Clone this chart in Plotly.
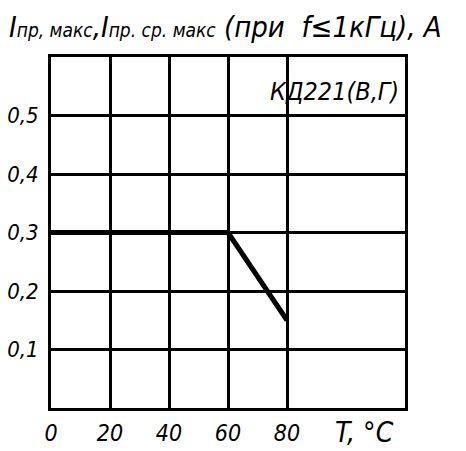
import plotly.graph_objects as go

# derating curve of KD221 (V, G)
temps = [0, 60, 80]
current = [0.3, 0.3, 0.15]

x_ticks = [0, 20, 40, 60, 80]
x_labels = ["0", "20", "40", "60", "80"]
y_ticks = [0.1, 0.2, 0.3, 0.4, 0.5]
y_labels = ["0,1", "0,2", "0,3", "0,4", "0,5"]

fnt = "DejaVu Sans Condensed, DejaVu Sans, sans-serif"

fig = go.Figure()
fig.add_scatter(x=temps, y=current, mode="lines",
                line=dict(color="black", width=5), showlegend=False)

fig.update_xaxes(
    range=[0, 120], tickvals=x_ticks, ticktext=x_labels,
    showgrid=True, gridcolor="black", gridwidth=3,
    showline=True, linecolor="black", linewidth=3, mirror=True,
    zeroline=False, ticks="", ticklabelstandoff=2, automargin=False,
    tickfont=dict(family=fnt, size=23, color="black", style="italic"),
)
fig.update_yaxes(
    range=[0, 0.6], tickvals=y_ticks + [0.6], ticktext=y_labels + [""],
    showgrid=True, gridcolor="black", gridwidth=3,
    showline=True, linecolor="black", linewidth=3, mirror=True,
    zeroline=False, ticks="", ticklabelstandoff=5, automargin=False,
    tickfont=dict(family=fnt, size=22, color="black", style="italic"),
)

fig.add_annotation(
    xref="paper", yref="paper", x=-0.124, y=1.139, xanchor="left", yanchor="top",
    showarrow=False, font=dict(family=fnt, size=29, color="black", style="italic"),
    text="I<span style='font-size:19px'>пр, макс</span>,I<span style='font-size:19px'>пр. ср. макс</span>"
         " (при  f≤1кГц), А",
)
fig.add_annotation(
    xref="paper", yref="paper", x=0.99, y=0.902, xanchor="right", yanchor="middle",
    showarrow=False, font=dict(family=fnt, size=25, color="black", style="italic"),
    text="КД221(В,Г)",
)
fig.add_annotation(
    xref="paper", yref="paper", x=0.887, y=-0.071, xanchor="center", yanchor="middle",
    showarrow=False, font=dict(family=fnt, size=28, color="black", style="italic"),
    text="T, °C",
)

# the page body adds an 8px offset, so the figure is sized to what is left
fig.update_layout(
    width=458, height=443,
    margin=dict(l=43, r=61, t=49, b=43),
    plot_bgcolor="white", paper_bgcolor="white",
)
fig.write_html("out.html")
